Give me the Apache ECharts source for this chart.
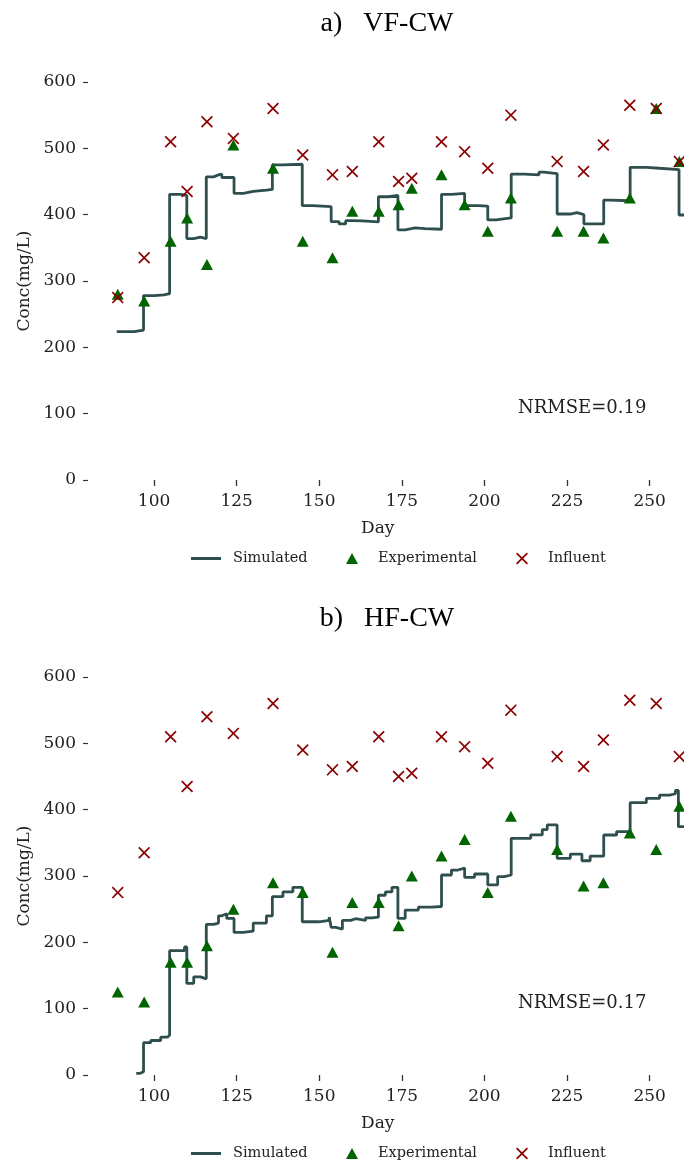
<!DOCTYPE html>
<html>
<head>
<meta charset="utf-8">
<script src="https://cdn.jsdelivr.net/npm/echarts@6/dist/echarts.min.js"></script>
<style>
  html, body { margin: 0; padding: 0; background: #fff; }
  #chart { width: 684px; height: 1161px; }
</style>
</head>
<body>
<div id="chart"></div>
<script>
// sampling days of the lab measurements
var sampleDays = [89, 97, 105, 110, 116, 124, 136, 145, 154, 160, 168, 174, 178, 187, 194, 201, 208, 222, 230, 236, 244, 252, 259];
var influent = [275, 335, 510, 435, 540, 515, 560, 490, 460, 465, 510, 450, 455, 510, 495, 470, 550, 480, 465, 505, 565, 560, 480];
var expVF = [280, 270, 360, 395, 325, 505, 470, 360, 335, 405, 405, 415, 440, 460, 415, 375, 425, 375, 375, 365, 425, 560, 480];
var expHF = [125, 110, 170, 170, 195, 250, 290, 275, 185, 260, 260, 225, 300, 330, 355, 275, 390, 340, 285, 290, 365, 340, 405];

// simulated output, level held from each day on
var simVFDay = [88.7, 94, 96.8, 100, 103, 104.7, 108, 109.9, 112, 114, 115.8, 118, 119.5, 120.5, 124.2, 127, 130, 134, 135.8, 139,
  144.85, 148, 153.6, 156, 158, 160, 163, 167.9, 171, 173.8, 176, 179, 182, 187, 190, 194, 198, 201, 203.5, 208.1,
  212, 216.5, 218, 222, 226, 228, 230.1, 236.1, 238, 244.1, 249, 253, 258.9, 262];
var simVFConc = [223.6, 226, 278, 279, 281, 430.7, 429, 364, 366, 364, 457, 460, 461, 456, 432, 435, 437, 438, 475, 476,
  413.6, 412, 389.5, 386, 391, 390.5, 389, 427, 429, 377, 380, 379, 378, 430.7, 432, 413.6, 413, 392, 395, 461,
  460, 464, 462, 401, 403, 400, 386, 422, 421, 471.4, 470, 468, 399.5, 399.5];

var simHFDay = [94.6, 95.8, 96.8, 99, 102, 104, 104.7, 108, 109.2, 109.9, 112, 114, 115.8, 118, 119.5, 120.5, 122, 124.2, 127, 130,
  134, 135.8, 139, 142, 144.85, 150, 153, 153.6, 155, 157, 159.5, 161, 164, 166, 167.9, 170, 172, 173.8, 176, 180,
  184, 187, 190, 192, 194, 197, 201, 204, 206, 208.1, 214, 217.5, 219, 222, 226, 229.5, 232, 236.1, 240, 244.1,
  249, 253, 256, 257.8, 258.7, 262];
var simHFConc = [2.5, 5, 48.7, 52, 57, 60, 187.4, 187.5, 193, 138, 148, 145, 227, 229, 240, 243, 236, 215, 217, 229,
  240, 268.8, 276, 283, 231, 233, 238, 222.6, 220, 233, 235.6, 233, 237, 238, 271, 276, 283, 236, 248.6, 253,
  254, 301.5, 309, 312, 298, 303, 286.5, 299, 301.5, 356.8, 362, 370, 377, 326.7, 333, 323, 330, 361.8, 367, 410.5,
  417, 422, 424, 429, 374.3, 374.3];

var panelTitles = ['a)   VF-CW', 'b)   HF-CW'];
var nrmse = ['NRMSE=0.19', 'NRMSE=0.17'];

function zip(a, b) {
  return a.map(function (v, i) { return [v, b[i]]; });
}

var serif = 'DejaVu Serif';
var txt = '#222';
var crossPath = 'path://M0,1L1,0L5,4L9,0L10,1L6,5L10,9L9,10L5,6L1,10L0,9L4,5Z';
var tops = [82, 677];

var grids = [], xAxes = [], yAxes = [], series = [], legends = [], titles = [], graphics = [];
var sims = [zip(simVFDay, simVFConc), zip(simHFDay, simHFConc)];
var exps = [zip(sampleDays, expVF), zip(sampleDays, expHF)];

function legendItem(name, left, top, w, h, pad, icon) {
  var item = { name: name };
  if (icon) item.icon = icon;
  return {
    left: left, top: top, itemWidth: w, itemHeight: h,
    data: [item], selectedMode: false,
    textStyle: { fontFamily: serif, fontSize: 14.5, color: txt, padding: [0, 0, 0, pad] }
  };
}

tops.forEach(function (top, k) {
  grids.push({ left: 71.5, top: top, height: 398, right: 0 });
  xAxes.push({
    type: 'value', gridIndex: k, min: 75, max: 260.4, interval: 25,
    name: 'Day', nameLocation: 'middle', nameGap: 40,
    nameTextStyle: { fontFamily: serif, fontSize: 17, color: txt },
    axisLine: { show: true, onZero: false, lineStyle: { color: 'rgba(0,0,0,0)', width: 1 } },
    splitLine: { show: false },
    axisTick: { show: true, length: 6, lineStyle: { color: '#333', width: 1.3 } },
    axisLabel: { showMinLabel: false, showMaxLabel: false, margin: 13, fontFamily: serif, fontSize: 17, color: txt }
  });
  yAxes.push({
    type: 'value', gridIndex: k, min: 0, max: 600, interval: 100, offset: -16.5,
    name: 'Conc(mg/L)', nameLocation: 'middle', nameGap: 54,
    nameTextStyle: { fontFamily: serif, fontSize: 17, color: txt },
    axisLine: { show: false },
    splitLine: { show: false },
    axisTick: { show: true, length: 5, lineStyle: { color: '#333', width: 1.2 } },
    axisLabel: { margin: 12, fontFamily: serif, fontSize: 17, color: txt }
  });
  series.push({
    name: 'Simulated', type: 'line', xAxisIndex: k, yAxisIndex: k,
    data: sims[k], step: 'end', symbol: 'none', clip: true,
    lineStyle: { color: '#2f4f4f', width: 2.8 },
    itemStyle: { color: '#2f4f4f' }, z: 2
  });
  series.push({
    name: 'Experimental', type: 'scatter', xAxisIndex: k, yAxisIndex: k,
    data: exps[k], symbol: 'triangle', symbolSize: [12, 11],
    itemStyle: { color: '#006400', opacity: 1 }, z: 3
  });
  series.push({
    name: 'Influent', type: 'scatter', xAxisIndex: k, yAxisIndex: k,
    data: zip(sampleDays, influent), symbol: crossPath, symbolSize: 12,
    itemStyle: { color: '#8b0000', opacity: 1 }, z: 4
  });
  var ly = top + 464;
  legends.push(legendItem('Simulated', 186, ly, 30, 3, 7, 'rect'));
  legends.push(legendItem('Experimental', 341, ly, 12, 11, 15));
  legends.push(legendItem('Influent', 511, ly, 12, 12, 15));
  titles.push({
    text: panelTitles[k], left: 382, textAlign: 'center', top: top - 77,
    textStyle: { fontFamily: 'Liberation Serif', fontSize: 28, fontWeight: 'normal', color: '#000' }
  });
  graphics.push({
    type: 'text', left: 518, top: top + 317,
    style: { text: nrmse[k], font: '18px "DejaVu Serif"', fill: txt }
  });
});

var chart = echarts.init(document.getElementById('chart'), null, { renderer: 'canvas' });
chart.setOption({
  animation: false,
  backgroundColor: '#fff',
  title: titles,
  legend: legends,
  grid: grids,
  xAxis: xAxes,
  yAxis: yAxes,
  series: series,
  graphic: graphics
});
</script>
</body>
</html>
